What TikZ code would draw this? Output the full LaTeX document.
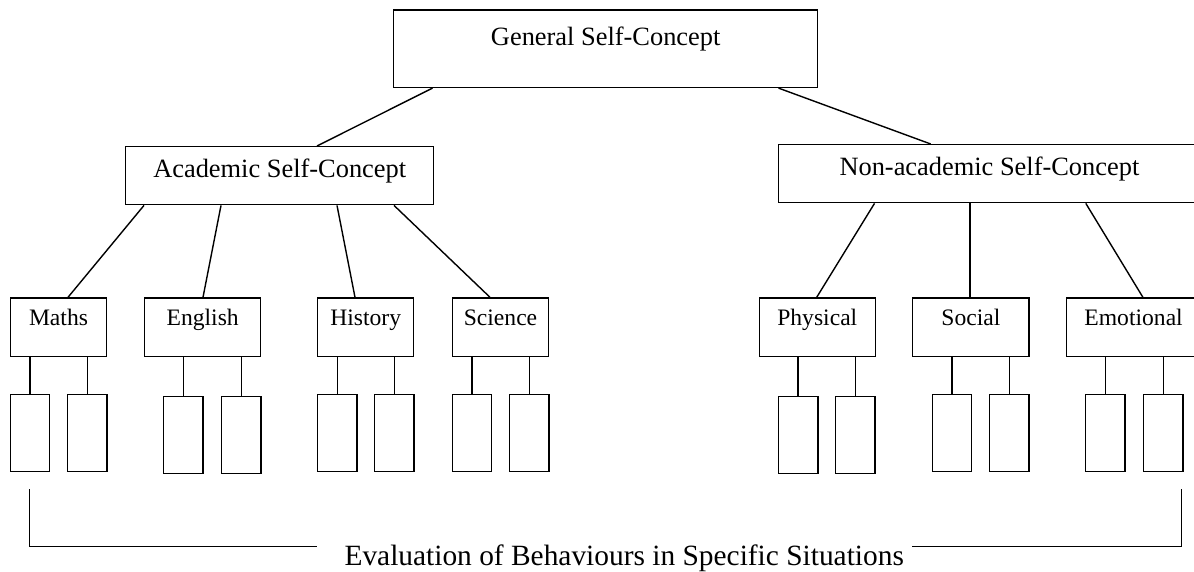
\documentclass[tikz,border=0pt]{standalone}
\usepackage{fontspec}
\setmainfont{Liberation Serif}
\begin{document}
\begin{tikzpicture}[x=1pt,y=-1pt,line width=1.4pt,
  box/.style={draw, rectangle, inner sep=0pt, anchor=north west, line width=1.4pt},
  big/.style={box, font=\fontsize{26.4}{30}\selectfont},
  sub/.style={box, font=\fontsize{23.6}{28}\selectfont, text height=27.7pt, text depth=31pt},
  leaf/.style={box, minimum width=39.4pt, minimum height=77pt},
  conn/.style={line width=1.4pt}]
\clip (0,0) rectangle (1194,572);
% top levels
\node[big, minimum width=424pt, text height=35.7pt, text depth=41.7pt] (gen) at (393,9.3) {General Self-Concept};
\node[big, minimum width=308pt, text height=30.7pt, text depth=27.3pt] (acad) at (125,146) {Academic Self-Concept};
\node[big, minimum width=422pt, text height=31pt, text depth=27pt] (nonacad) at (777.7,144) {Non-academic Self-Concept};
% subjects
\node[sub, minimum width=96.4pt] (maths) at (9.6,297.3) {Maths};
\node[sub, minimum width=116pt] (english) at (144,297.3) {English};
\node[sub, minimum width=96pt] (history) at (317,297.3) {History};
\node[sub, minimum width=96.4pt] (science) at (451.6,297.3) {Science};
\node[sub, minimum width=116pt] (physical) at (758.6,297.3) {Physical};
\node[sub, minimum width=116.4pt] (social) at (912,297.3) {Social};
\node[sub, minimum width=134pt] (emotional) at (1065.9,297.3) {Emotional};
% leaves
\node[leaf] (m1) at (9.6,394) {};
\node[leaf] (m2) at (67,394) {};
\node[leaf] (e1) at (163,396) {};
\node[leaf] (e2) at (221,396) {};
\node[leaf] (h1) at (317,394) {};
\node[leaf] (h2) at (374,394) {};
\node[leaf] (s1) at (451.6,394) {};
\node[leaf] (s2) at (509,394) {};
\node[leaf] (p1) at (777.7,396) {};
\node[leaf] (p2) at (835,396) {};
\node[leaf] (so1) at (931.5,393.7) {};
\node[leaf] (so2) at (989,393.7) {};
\node[leaf] (em1) at (1085,393.7) {};
\node[leaf] (em2) at (1142.8,393.7) {};
% connectors top
\draw[conn] ([xshift=39.5pt]gen.south west) -- ([xshift=192pt]acad.north west);
\draw[conn] ([xshift=385.5pt]gen.south west) -- ([xshift=153pt]nonacad.north west);
\draw[conn] ([xshift=19pt]acad.south west) -- ([xshift=58.4pt]maths.north west);
\draw[conn] ([xshift=96pt]acad.south west) -- ([xshift=59pt]english.north west);
\draw[conn] ([xshift=212pt]acad.south west) -- ([xshift=38pt]history.north west);
\draw[conn] ([xshift=269pt]acad.south west) -- ([xshift=38.4pt]science.north west);
\draw[conn] ([xshift=96.8pt]nonacad.south west) -- ([xshift=58.1pt]physical.north west);
\draw[conn] ([xshift=192.3pt]nonacad.south west) -- ([xshift=58pt]social.north west);
\draw[conn] ([xshift=308.1pt]nonacad.south west) -- ([xshift=77pt]emotional.north west);
% connectors to leaves
\foreach \p/\c in {maths/m1,maths/m2,english/e1,english/e2,history/h1,history/h2,science/s1,science/s2,physical/p1,physical/p2,social/so1,social/so2,emotional/em1,emotional/em2}
  \draw[conn] (\c.north) -- (\c.north |- \p.south);
% bracket
\node[font=\fontsize{29.4}{34}\selectfont, inner sep=0pt, anchor=base] (eval) at (624.2,565) {Evaluation of Behaviours in Specific Situations};
\coordinate (bl) at (29.3,489.3);
\coordinate (bll) at (317,546.7);
\coordinate (br) at (1181.4,489.3);
\coordinate (brr) at (911.6,546.7);
\draw[conn] (bl) -- (bl |- bll) -- (bll);
\draw[conn] (br) -- (br |- brr) -- (brr);
\end{tikzpicture}
\end{document}
